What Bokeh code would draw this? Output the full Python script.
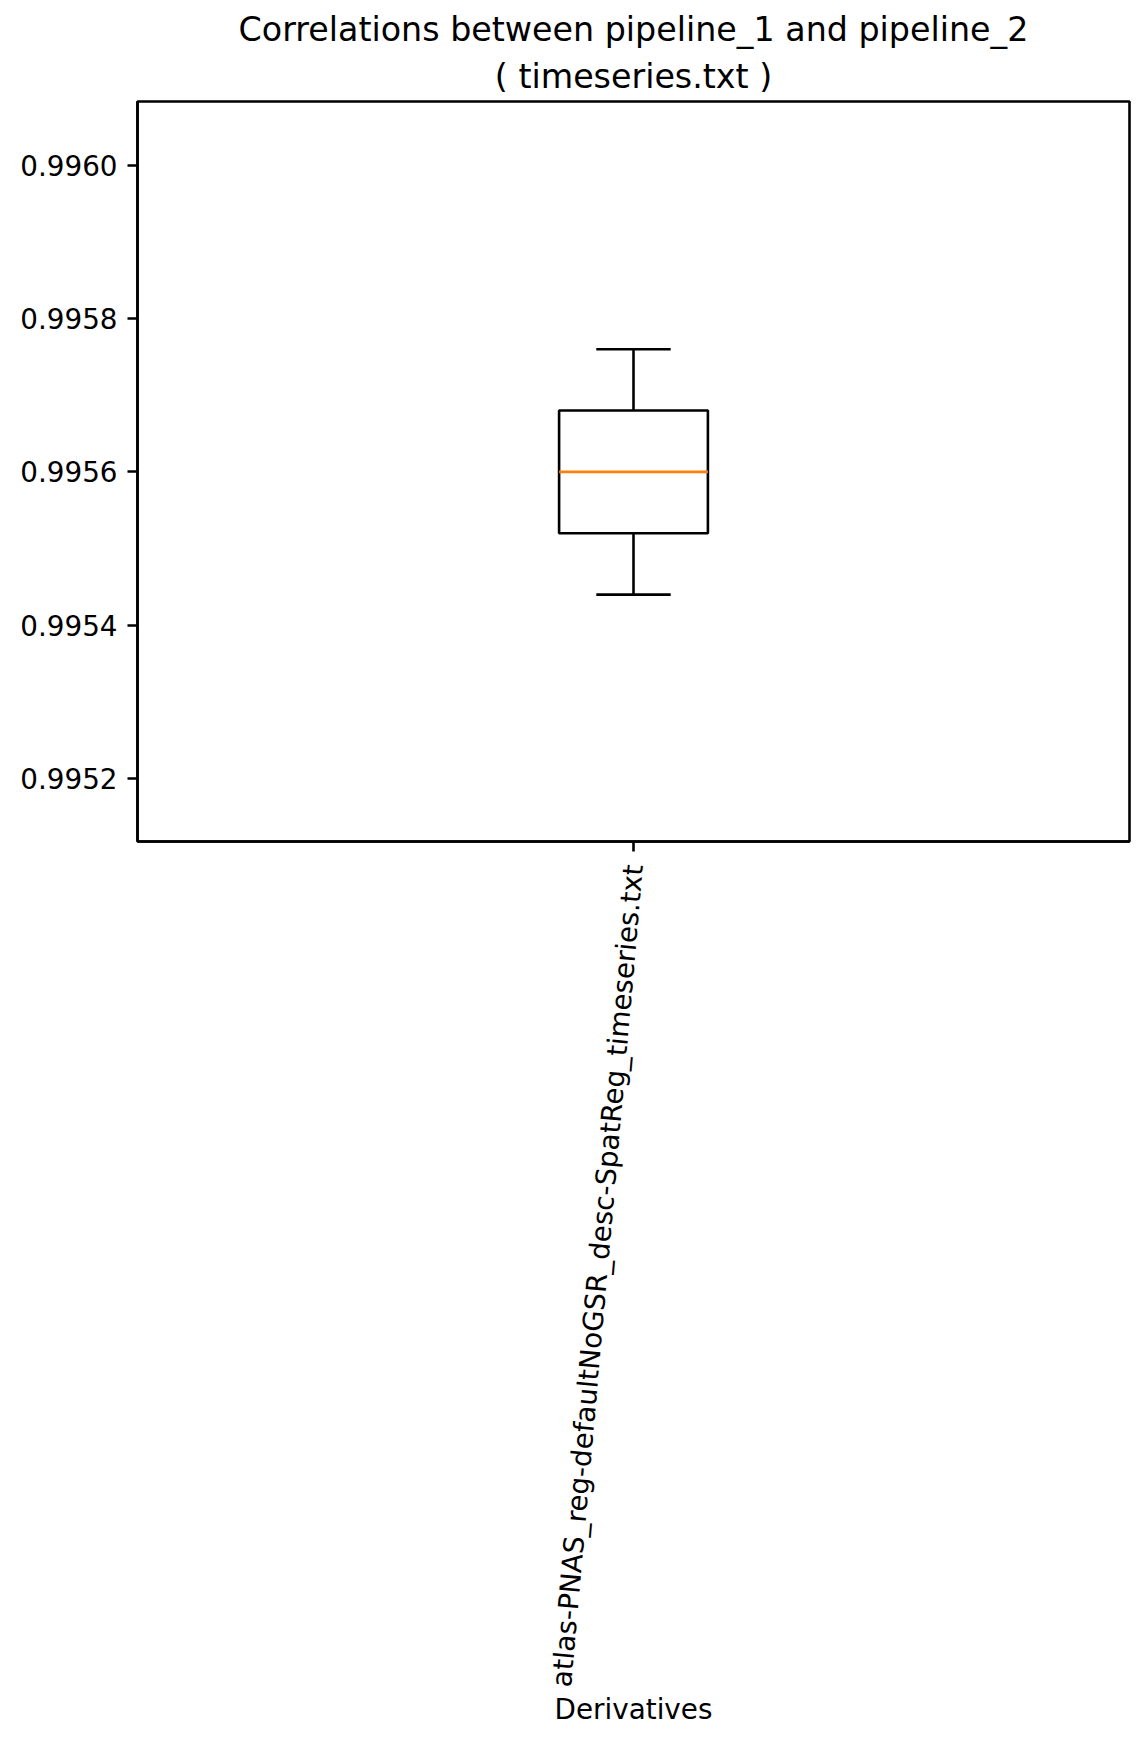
import math
from bokeh.plotting import figure
from bokeh.models import Range1d, FixedTicker, PrintfTickFormatter, Title
from bokeh.embed import file_html
from bokeh.resources import INLINE

# ---- data ----
categories = ["atlas-PNAS_reg-defaultNoGSR_desc-SpatReg_timeseries.txt"]
positions = [1]
whisker_lo = [0.99544]
q1 = [0.99552]
median = [0.99560]
q3 = [0.99568]
whisker_hi = [0.99576]
y_ticks = [0.9952, 0.9954, 0.9956, 0.9958, 0.9960]

title_line1 = "Correlations between pipeline_1 and pipeline_2"
title_line2 = "( timeseries.txt )"
x_label = "Derivatives"

FONT = "DejaVu Sans"
LW = 2.6
BOX_W = 0.15

p = figure(
    width=1140, height=1735,
    output_backend="svg", toolbar_location=None,
    x_range=Range1d(0.5, 1.5), y_range=Range1d(0.995118, 0.996083),
    min_border_left=137, min_border_right=11, min_border_top=101, min_border_bottom=894,
    background_fill_color="white", border_fill_color="white",
)
# outer title line
p.title.text = title_line1
p.title.text_font = FONT
p.title.text_font_size = "33.3px"
p.title.text_font_style = "normal"
p.title.text_color = "black"
p.title.align = "center"
p.title.standoff = 0
p.title.offset = 0
# inner title line (closest to the frame)
p.add_layout(Title(text=title_line2, text_font=FONT, text_font_size="33.3px",
                   text_font_style="normal", text_color="black",
                   align="center", standoff=12), "above")

p.grid.visible = False
p.outline_line_color = "black"
p.outline_line_width = LW
p.outline_line_alpha = 1.0

# boxes
p.vbar(x=positions, width=BOX_W, top=q3, bottom=q1, fill_color=None,
       line_color="black", line_width=LW)
# whiskers
p.segment(x0=positions, y0=q3, x1=positions, y1=whisker_hi, line_color="black", line_width=LW)
p.segment(x0=positions, y0=q1, x1=positions, y1=whisker_lo, line_color="black", line_width=LW)
# caps
cap_l = [x - BOX_W / 4 for x in positions]
cap_r = [x + BOX_W / 4 for x in positions]
p.segment(x0=cap_l, y0=whisker_hi, x1=cap_r, y1=whisker_hi, line_color="black", line_width=LW)
p.segment(x0=cap_l, y0=whisker_lo, x1=cap_r, y1=whisker_lo, line_color="black", line_width=LW)
# medians
med_l = [x - BOX_W / 2 for x in positions]
med_r = [x + BOX_W / 2 for x in positions]
p.segment(x0=med_l, y0=median, x1=med_r, y1=median, line_color="#ff7f0e", line_width=LW)

# axes
for ax in (p.xaxis[0], p.yaxis[0]):
    ax.axis_line_color = "black"
    ax.axis_line_width = LW
    ax.major_tick_line_color = "black"
    ax.major_tick_line_width = LW
    ax.major_tick_in = 0
    ax.major_tick_out = 10
    ax.minor_tick_line_color = None
    ax.major_label_text_font = FONT
    ax.major_label_text_font_size = "27.8px"
    ax.major_label_text_color = "black"
    ax.major_label_standoff = 10

p.yaxis.ticker = FixedTicker(ticks=y_ticks)
p.yaxis.formatter = PrintfTickFormatter(format="%.4f")

p.xaxis.ticker = FixedTicker(ticks=positions)
p.xaxis.major_label_overrides = {pos: lab for pos, lab in zip(positions, categories)}
p.xaxis.major_label_orientation = math.radians(85)
p.xaxis.major_label_standoff = 13
p.xaxis.axis_label = x_label
p.xaxis.axis_label_text_font = FONT
p.xaxis.axis_label_text_font_size = "27.8px"
p.xaxis.axis_label_text_font_style = "normal"
p.xaxis.axis_label_text_color = "black"
p.xaxis.axis_label_standoff = 0

open("out.html", "w").write(file_html(p, INLINE))
